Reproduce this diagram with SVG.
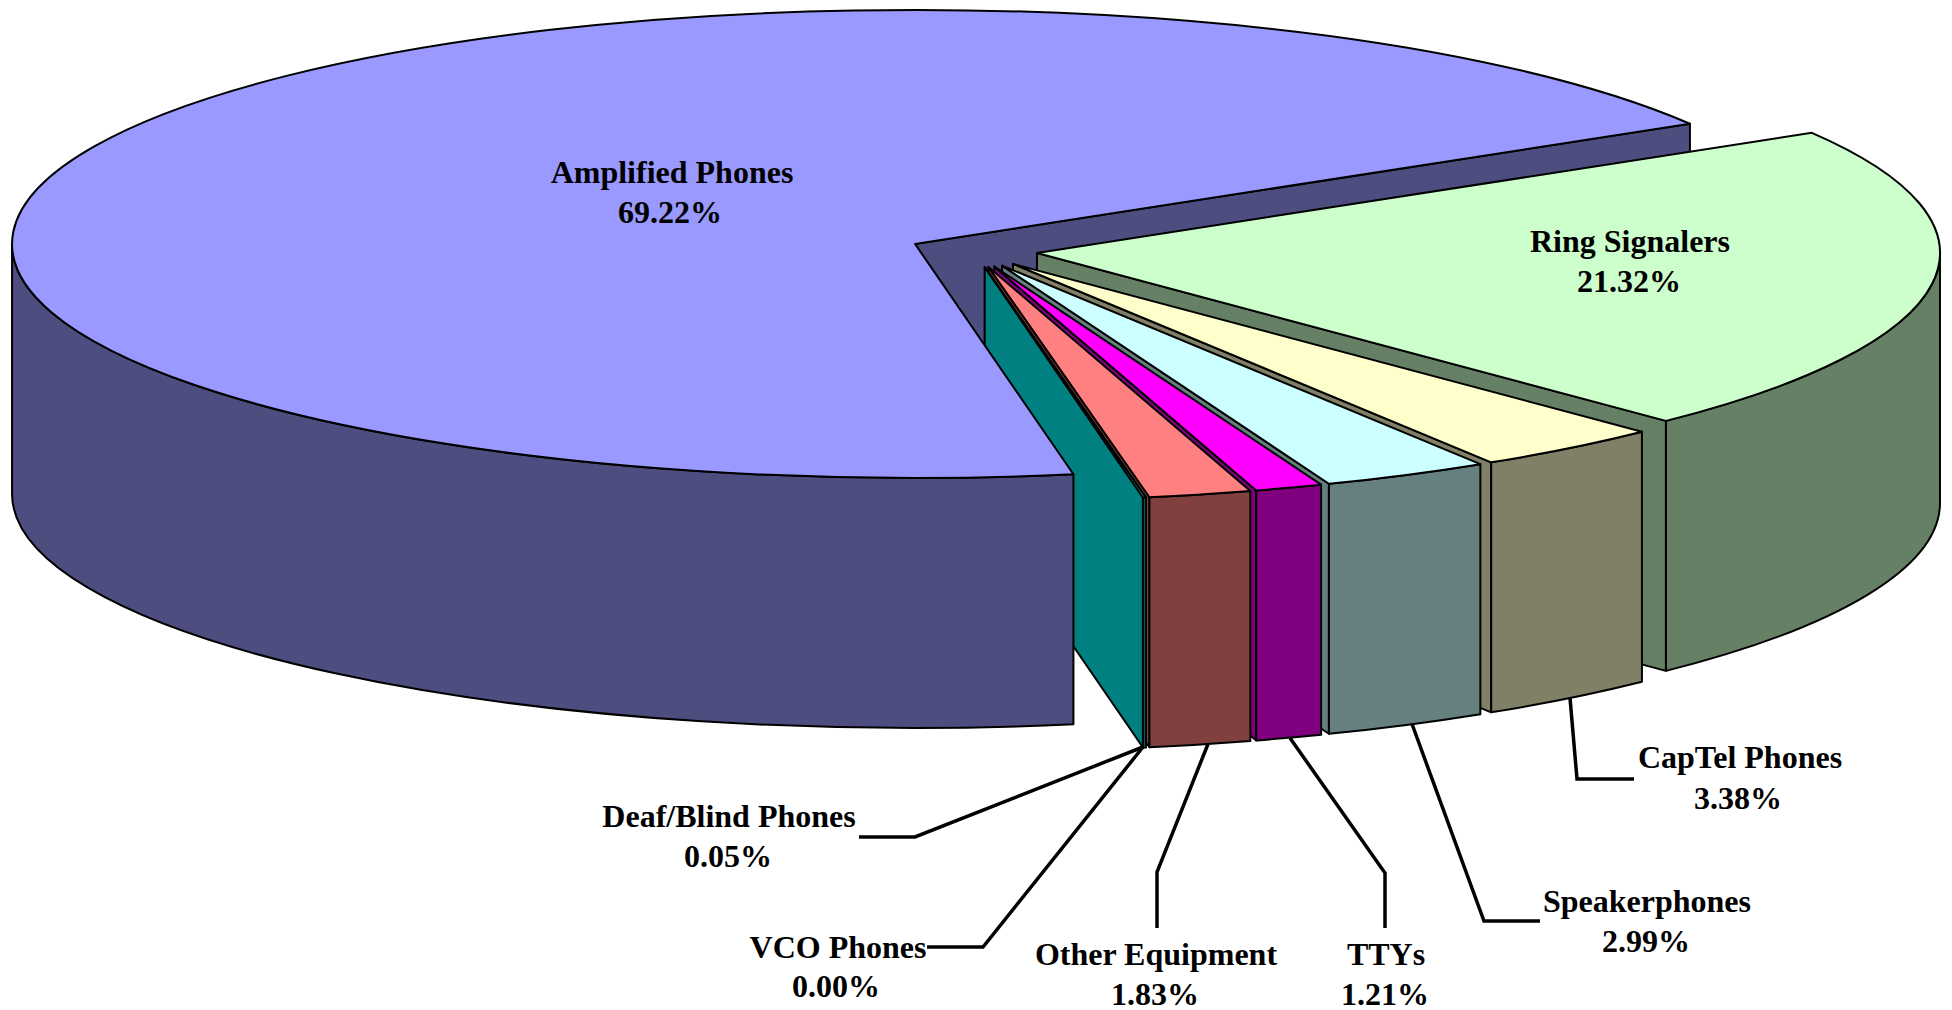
<svg xmlns="http://www.w3.org/2000/svg" width="1952" height="1010" viewBox="0 0 1952 1010">
<style>
.o{stroke:#000;stroke-width:2;stroke-linejoin:round}
.lbl{font-family:"Liberation Serif","Times New Roman",serif;font-weight:bold;font-size:32px;text-anchor:middle;fill:#000}
.ld{fill:none;stroke:#000;stroke-width:3.5;stroke-linejoin:miter}
</style>
<rect width="1952" height="1010" fill="#fff"/>
<g id="amplified-back">
<path class="o" fill="#4D4D80" d="M915.06,243.91 L1689.93,123.75 L1689.93,373.75 L915.06,493.91 Z"/>
</g>
<g id="ring-signalers">
<path class="o" fill="#668066" d="M1036.97,252.96 L1665.95,420.86 L1665.95,670.86 L1036.97,502.96 Z"/>
<path class="o" fill="#668066" d="M1939.97,252.96 A903,234 0 0 1 1665.95,420.86 L1665.95,670.86 A903,234 0 0 0 1939.97,502.96 Z"/>
<path class="o" fill="#CCFFCC" d="M1036.97,252.96 L1811.84,132.80 A903,234 0 0 1 1665.95,420.86 Z"/>
<text class="lbl" x="1630" y="252">Ring Signalers</text>
<text class="lbl" x="1629" y="292">21.32%</text>
</g>
<g id="captel-phones">
<path class="o" fill="#808066" d="M1012.95,263.87 L1491.19,462.36 L1491.19,712.36 L1012.95,513.87 Z"/>
<path class="o" fill="#808066" d="M1641.93,431.77 A903,234 0 0 1 1491.19,462.36 L1491.19,712.36 A903,234 0 0 0 1641.93,681.77 Z"/>
<path class="o" fill="#FFFFCC" d="M1012.95,263.87 L1641.93,431.77 A903,234 0 0 1 1491.19,462.36 Z"/>
<text class="lbl" x="1740" y="768">CapTel Phones</text>
<text class="lbl" x="1738" y="809">3.38%</text>
</g>
<g id="speakerphones">
<path class="o" fill="#668080" d="M1002.11,265.65 L1328.91,483.79 L1328.91,733.79 L1002.11,515.65 Z"/>
<path class="o" fill="#668080" d="M1480.35,464.14 A903,234 0 0 1 1328.91,483.79 L1328.91,733.79 A903,234 0 0 0 1480.35,714.14 Z"/>
<path class="o" fill="#CCFFFF" d="M1002.11,265.65 L1480.35,464.14 A903,234 0 0 1 1328.91,483.79 Z"/>
<text class="lbl" x="1647" y="912">Speakerphones</text>
<text class="lbl" x="1646" y="952">2.99%</text>
</g>
<g id="ttys">
<path class="o" fill="#800080" d="M994.31,266.50 L1256.21,490.44 L1256.21,740.44 L994.31,516.50 Z"/>
<path class="o" fill="#800080" d="M1321.11,484.64 A903,234 0 0 1 1256.21,490.44 L1256.21,740.44 A903,234 0 0 0 1321.11,734.64 Z"/>
<path class="o" fill="#FF00FF" d="M994.31,266.50 L1321.11,484.64 A903,234 0 0 1 1256.21,490.44 Z"/>
<text class="lbl" x="1386" y="965">TTYs</text>
<text class="lbl" x="1385" y="1005">1.21%</text>
</g>
<g id="other-equipment">
<path class="o" fill="#804040" d="M988.44,266.95 L1149.44,497.20 L1149.44,747.20 L988.44,516.95 Z"/>
<path class="o" fill="#804040" d="M1250.34,490.89 A903,234 0 0 1 1149.44,497.20 L1149.44,747.20 A903,234 0 0 0 1250.34,740.89 Z"/>
<path class="o" fill="#FF8080" d="M988.44,266.95 L1250.34,490.89 A903,234 0 0 1 1149.44,497.20 Z"/>
<text class="lbl" x="1156" y="965">Other Equipment</text>
<text class="lbl" x="1155" y="1005">1.83%</text>
</g>
<g id="vco-phones">
<path class="o" fill="#804040" d="M984.83,267.14 L1145.83,497.39 L1145.83,747.39 L984.83,517.14 Z"/>
<text class="lbl" x="838" y="958">VCO Phones</text>
<text class="lbl" x="836" y="997">0.00%</text>
</g>
<g id="deaf-blind-phones">
<path class="o" fill="#008080" d="M984.73,267.15 L1142.94,497.53 L1142.94,747.53 L984.73,517.15 Z"/>
<path class="o" fill="#008080" d="M1145.73,497.40 A903,234 0 0 1 1142.94,497.53 L1142.94,747.53 A903,234 0 0 0 1145.73,747.40 Z"/>
<path class="o" fill="#00FFFF" d="M984.73,267.15 L1145.73,497.40 A903,234 0 0 1 1142.94,497.53 Z"/>
<text class="lbl" x="729" y="827">Deaf/Blind Phones</text>
<text class="lbl" x="728" y="867">0.05%</text>
</g>
<g id="amplified-phones">
<path class="o" fill="#4D4D80" d="M1073.42,474.28 A903,234 0 0 1 12.06,243.91 L12.06,493.91 A903,234 0 0 0 1073.42,724.28 Z"/>
<path class="o" fill="#9999FF" d="M915.06,243.91 L1073.42,474.28 A903,234 0 1 1 1689.93,123.75 Z"/>
<text class="lbl" x="672" y="183">Amplified Phones</text>
<text class="lbl" x="670" y="223">69.22%</text>
</g>
<g id="connectors">
<path class="ld" d="M859,837 L915,837 L1143,747"/>
<path class="ld" d="M927,947 L983,947 L1143,747"/>
<path class="ld" d="M1157,928 L1157,872 L1208,744"/>
<path class="ld" d="M1385,928 L1385,873 L1290,738"/>
<path class="ld" d="M1540,921 L1484,921 L1412,724"/>
<path class="ld" d="M1570,698 L1577,779 L1634,779"/>
</g>
</svg>
